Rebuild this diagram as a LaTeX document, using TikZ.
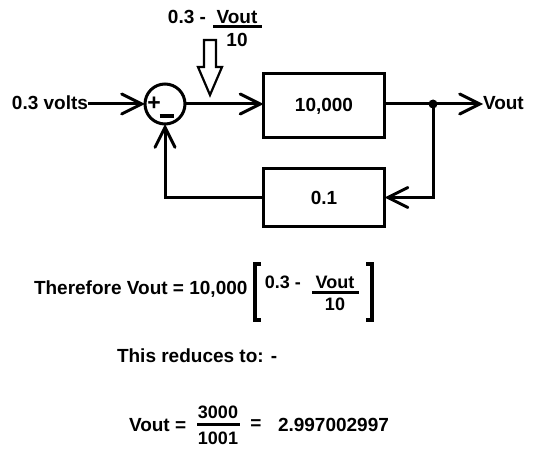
\documentclass[tikz,border=0pt]{standalone}
\usepackage{fontspec}
\setmainfont{Liberation Sans}
\usetikzlibrary{arrows.meta,calc}
\begin{document}
\begin{tikzpicture}[x=1pt,y=-1pt,
  txt/.style={font=\bfseries\fontsize{19}{19}\selectfont, inner sep=0pt, outer sep=0pt},
  sml/.style={font=\bfseries\fontsize{18}{18}\selectfont, inner sep=0pt, outer sep=0pt},
  wire/.style={line width=3pt},
  tip/.style={-{Straight Barb[length=20pt,width=20pt,line cap=round]}},
  blockbox/.style={draw, line width=3pt, minimum width=121pt, minimum height=64pt, inner sep=0pt, outer sep=0pt, font=\bfseries\fontsize{19}{19}\selectfont},
  sumnode/.style={draw, circle, line width=3pt, minimum size=40pt, inner sep=0pt, outer sep=0pt}]
\fill[white] (0,0) rectangle (540,462);
\useasboundingbox (0,0) rectangle (540,462);

% blocks
\node[sumnode] (sum) at (165,104) {};
\node[font=\bfseries\fontsize{23}{23}\selectfont, inner sep=0pt] (plus) at (154,104) {+};
\node[txt] (minus) at (166.5,116) {\rule{14pt}{3.2pt}};
\node[blockbox] (g) at (324,106) {10,000};
\node[blockbox, minimum height=58pt] (h) at (324,197.5) {0.1};
\node[txt, anchor=east] (in) at (88,103) {0.3 volts};
\node[txt, anchor=west] (out) at (483,103) {Vout};
\coordinate (j) at (433,104);

% connectors
\draw[wire, tip] (in.east |- sum) -- (sum.west);
\draw[wire, tip] (sum.east) -- (sum.east -| g.west);
\draw[wire] (g.east |- j) -- (j);
\draw[wire, tip] (j) -- (out.west |- j);
\fill (j) circle (4.5pt);
\draw[wire, tip] (j) |- (h.east);
\draw[wire, tip] (h.west) -| (sum.south);

% hollow arrow
\draw[line width=2.2pt, line join=miter]
  (204,40) -- (216,40) -- (216,67) -- (222,67) -- (210,95) -- (198,67) -- (204,67) -- cycle;

% top label
\node[txt, anchor=east] (l1) at (206,17) {0.3 -};
\node[txt] (l2) at (237,17) {Vout};
\draw[line width=2.5pt] (213,26.5) -- (262,26.5);
\node[txt] (l3) at (237,40) {10};

% equation 1
\node[txt, anchor=west] (e1) at (34,289) {Therefore Vout = 10,000};
\draw[line width=3.5pt] (261,264) -- (255,264) -- (255,320) -- (261,320);
\draw[line width=3.5pt] (366,264) -- (372,264) -- (372,320) -- (366,320);
\node[sml, anchor=east] (e2) at (301,282) {0.3 -};
\node[sml] (e3) at (335,282) {Vout};
\draw[line width=2.5pt] (312,292.5) -- (359,292.5);
\node[sml] (e4) at (335,304) {10};

% text
\node[txt, anchor=west] (r1) at (117,356) {This reduces to: -};

% equation 2
\node[txt, anchor=west] (v1) at (129,425) {Vout =};
\node[sml] (f1) at (218,412) {3000};
\draw[line width=2.5pt] (197,424.5) -- (240,424.5);
\node[sml] (f2) at (218,438) {1001};
\node[txt] (eq) at (256,425) {=};
\node[txt, anchor=west] (res) at (278,425) {2.997002997};
\end{tikzpicture}
\end{document}
